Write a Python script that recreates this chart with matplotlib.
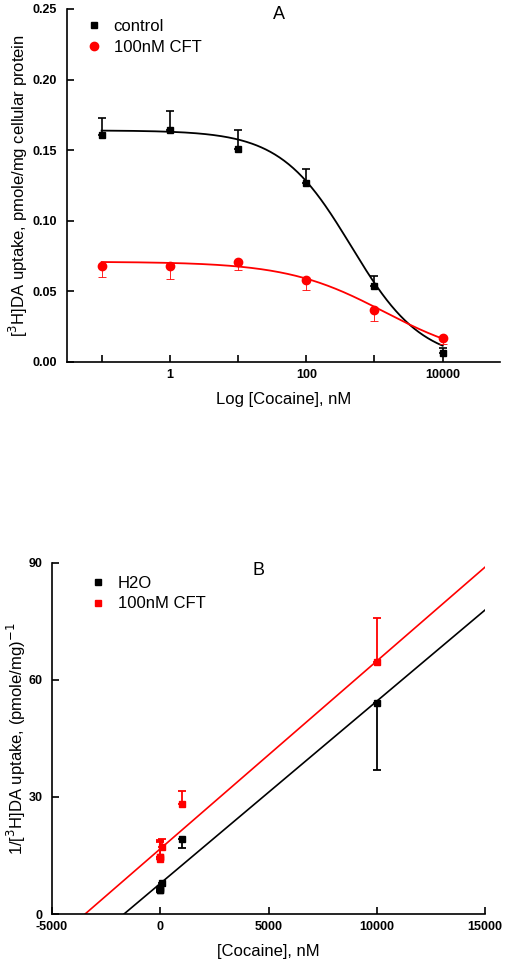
import numpy as np
import matplotlib
matplotlib.use("Agg")
import matplotlib.pyplot as plt

plt.rcParams.update({
    "font.family": ["Liberation Sans", "DejaVu Sans"],
    "axes.linewidth": 1.2,
    "axes.spines.top": False,
    "axes.spines.right": False,
    "axes.unicode_minus": False,
})

RED = "#FF0000"
BLACK = "#000000"

# ── panel A data ─────────────────────────────────────────────────────────────
conc = [0.1, 1, 10, 100, 1000, 10000]
ctrl_y = [0.161, 0.164, 0.151, 0.127, 0.054, 0.006]
ctrl_err = [0.012, 0.014, 0.013, 0.010, 0.007, 0.004]
cft_y = [0.068, 0.068, 0.071, 0.058, 0.037, 0.017]
cft_err = [0.008, 0.009, 0.006, 0.007, 0.008, 0.004]

# Hill fit parameters (top, bottom, IC50, slope)
ctrl_fit = (0.164, 0.0, 455.0, 0.837)
cft_fit = (0.071, 0.0, 1390.0, 0.606)

# ── panel B data ─────────────────────────────────────────────────────────────
h2o_y = [6.1, 6.1, 6.6, 7.9, 19.3, 54.0]
h2o_err = [0.3, 0.4, 0.5, 0.6, 2.5, 17.1]
cft_inv_y = [14.7, 14.7, 14.1, 17.2, 28.2, 64.5]
cft_inv_err = [3.8, 4.2, 4.5, 2.0, 3.4, 11.3]

# regression lines (slope, intercept)
h2o_line = (0.00467, 7.82)
cft_line = (0.00481, 16.7)


def hill(x, top, bottom, ic50, h):
    return bottom + (top - bottom) / (1 + (x / ic50) ** h)


def style_ticks(a, xpad, ypad):
    a.tick_params(axis="x", direction="in", length=5, width=1.2, labelsize=9, pad=xpad)
    a.tick_params(axis="y", direction="in", length=5, width=1.2, labelsize=9, pad=ypad)
    for lab in a.get_xticklabels() + a.get_yticklabels():
        lab.set_fontweight("bold")


fig = plt.figure(figsize=(5.07, 9.67), dpi=100)

# ─────────────────────────────────────────────────────────────────────────────
# Panel A
# ─────────────────────────────────────────────────────────────────────────────
ax = fig.add_axes([0.132, 0.6257, 0.854, 0.365])
xs = np.logspace(-1, 4, 300)
ax.plot(xs, hill(xs, *ctrl_fit), color=BLACK, lw=1.3, zorder=2)
ax.plot(xs, hill(xs, *cft_fit), color=RED, lw=1.3, zorder=2)

eb1 = ax.errorbar(conc, ctrl_y, yerr=[np.zeros(len(ctrl_err)), ctrl_err],
                  fmt="s", color=BLACK, ms=5, elinewidth=1.2, capsize=3,
                  capthick=1.2, zorder=4)
eb2 = ax.errorbar(conc, cft_y, yerr=[cft_err, np.zeros(len(cft_err))],
                  fmt="o", color=RED, ms=6, elinewidth=0.6, capsize=3,
                  capthick=0.6, zorder=3)

ax.set_xscale("log")
ax.set_xlim(0.031, 69000)
ax.set_ylim(0, 0.25)
ax.set_xticks([0.1, 1, 10, 100, 1000, 10000])
ax.set_xticklabels(["", "1", "", "100", "", "10000"])
ax.xaxis.set_minor_locator(matplotlib.ticker.NullLocator())
ax.set_yticks([0, 0.05, 0.10, 0.15, 0.20, 0.25])
ax.set_yticklabels(["0.00", "0.05", "0.10", "0.15", "0.20", "0.25"])
style_ticks(ax, 5, 7)

ax.set_xlabel("Log [Cocaine], nM", fontsize=12, labelpad=8)
ax.set_ylabel("[$^3$H]DA uptake, pmole/mg cellular protein", fontsize=12, labelpad=2)
ax.text(0.49, 0.983, "A", transform=ax.transAxes, fontsize=13, ha="center", va="center")
ax.legend([eb1[0], eb2[0]], ["control", "100nM CFT"], loc="upper left",
          bbox_to_anchor=(0.0, 1.015), frameon=False, fontsize=12,
          handletextpad=0.5, handlelength=1.4, labelspacing=0.35)

# ─────────────────────────────────────────────────────────────────────────────
# Panel B
# ─────────────────────────────────────────────────────────────────────────────
bx = fig.add_axes([0.1026, 0.0548, 0.854, 0.3633])
lx = np.array([-5000, 15000])
bx.plot(lx, h2o_line[0] * lx + h2o_line[1], color=BLACK, lw=1.2, zorder=2)
bx.plot(lx, cft_line[0] * lx + cft_line[1], color=RED, lw=1.2, zorder=2)

eb3 = bx.errorbar(conc, h2o_y, yerr=[h2o_err, np.zeros(len(h2o_err))],
                  fmt="s", color=BLACK, ms=5, elinewidth=1.3, capsize=3,
                  capthick=1.3, zorder=4)
eb4 = bx.errorbar(conc, cft_inv_y, yerr=[np.zeros(len(cft_inv_err)), cft_inv_err],
                  fmt="s", color=RED, ms=5, elinewidth=1.3, capsize=3,
                  capthick=1.3, zorder=3)

bx.set_xlim(-5000, 15000)
bx.set_ylim(0, 90)
bx.set_xticks([-5000, 0, 5000, 10000, 15000])
bx.set_yticks([0, 30, 60, 90])
style_ticks(bx, 5, 6.5)

bx.set_xlabel("[Cocaine], nM", fontsize=12, labelpad=8)
bx.set_ylabel("1/[$^3$H]DA uptake, (pmole/mg)$^{-1}$", fontsize=12, labelpad=1)
bx.text(0.478, 0.977, "B", transform=bx.transAxes, fontsize=13, ha="center", va="center")
bx.legend([eb3[0], eb4[0]], ["H2O", "100nM CFT"], loc="upper left",
          bbox_to_anchor=(0.044, 1.006), frameon=False, fontsize=12,
          handletextpad=0.5, handlelength=1.4, labelspacing=0.35)

fig.savefig("out.png", dpi=100)
print("Saved: out.png")
